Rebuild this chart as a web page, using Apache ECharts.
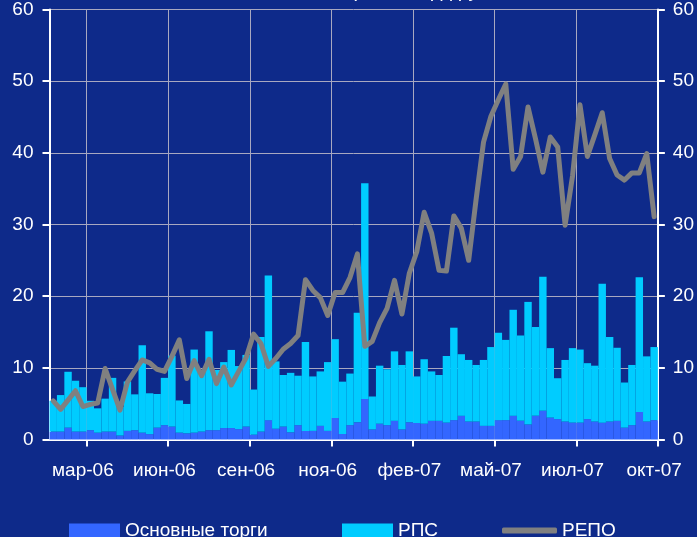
<!DOCTYPE html>
<html><head><meta charset="utf-8">
<script src="https://cdn.jsdelivr.net/npm/echarts@6/dist/echarts.min.js"></script>
<style>html,body{margin:0;padding:0;background:#0e2a8a;}#c{width:697px;height:537px;}</style>
</head><body><div id="c"></div>
<script>
// Tick labels and their category positions
const monthLabels = ['мар-06','июн-06','сен-06','ноя-06','фев-07','май-07','июл-07','окт-07'];
const labelIndex = [4,15,26,37,48,59,70,81];
const tickIndex = [5,16,27,38,49,60,71];
// weekly categories (82 weeks)
const weeks = Array.from({length: 82}, (_, i) => String(i + 1));

// Основные торги
const mainTrading = [1.1,1.1,1.65,1.1,1.1,1.3,0.95,1.1,1.1,0.55, 1.2,1.3,0.95,0.75,1.65,2.0,1.8,0.95,0.86,0.95,
  1.1,1.3,1.3,1.6,1.6,1.45,1.8,0.67,1.1,2.7, 1.5,1.8,1.0,2.0,1.2,1.2,1.9,1.2,3.0,0.77,
  2.0,2.4,5.65,1.4,2.2,2.0,2.6,1.4,2.4,2.3, 2.2,2.6,2.6,2.35,2.7,3.3,2.5,2.5,1.9,1.9,
  2.7,2.7,3.3,2.6,2.1,3.3,4.0,3.05,2.85,2.5, 2.35,2.35,2.85,2.5,2.35,2.5,2.6,1.65,2.0,3.85,
  2.5,2.7];
// РПС
const rps = [4.3,5.1,7.8,7.1,6.2,4.1,3.4,4.6,7.5,4.0, 6.9,5.0,12.2,5.7,4.7,6.6,9.9,4.5,4.1,11.6,
  8.5,13.8,8.4,9.2,10.9,8.8,10.0,6.3,13.2,20.2, 9.4,7.2,8.3,6.9,12.4,7.6,7.6,9.6,11.0,7.3,
  7.2,15.3,30.1,4.6,8.1,7.8,9.7,9.0,9.9,6.5, 9.0,6.9,6.4,9.3,12.9,8.6,8.6,7.9,9.2,11.0,
  12.2,11.2,14.8,11.9,17.1,12.4,18.7,9.7,5.7,8.6, 10.4,10.2,7.8,7.8,19.4,11.8,10.2,6.3,8.4,18.8,
  9.1,10.2];
// РЕПО
const repo = [5.4,4.2,5.5,6.8,4.6,4.9,5.1,9.9,7.0,4.1, 8.0,9.6,11.1,10.7,9.8,9.5,11.6,13.9,8.5,11.0,
  8.9,11.2,7.8,10.1,7.6,9.5,11.4,14.7,13.4,10.2, 11.3,12.6,13.4,14.5,22.3,20.8,19.8,17.3,20.5,20.5,
  22.6,25.9,13.0,13.7,16.3,18.3,22.2,17.5,23.2,26.2, 31.7,28.8,23.6,23.5,31.2,29.5,25.0,33.5,41.5,45.1,
  47.4,49.6,37.7,39.5,46.4,42.0,37.3,42.2,40.8,29.9, 36.8,46.7,39.5,42.5,45.6,39.2,36.9,36.2,37.2,37.2,
  39.9,31.1];

const FONT = "'Liberation Sans', Arial, sans-serif";
const chart = echarts.init(document.getElementById('c'), null, {renderer: 'canvas'});
const legendBase = {top: 521, padding: 0, itemWidth: 51, itemHeight: 14, itemGap: 0, icon: 'rect',
  textStyle: {color: '#ffffff', fontSize: 19, fontFamily: FONT}};
const yAxisBase = {type: 'value', min: 0, max: 60, interval: 10,
  axisLine: {show: true, lineStyle: {color: '#ffffff', width: 2}},
  axisTick: {show: true, length: 7, lineStyle: {color: '#ffffff', width: 2}},
  axisLabel: {color: '#ffffff', fontSize: 19, fontFamily: FONT}};
chart.setOption({
  backgroundColor: '#0e2a8a',
  animation: false,
  title: {text: 'Объем торгов, млрд руб.', left: 380, textAlign: 'center', top: -19, padding: 0,
    textStyle: {color: '#ffffff', fontSize: 20, fontWeight: 'normal', fontFamily: FONT}},
  grid: {left: 49.5, right: 38, top: 9.5, bottom: 97.5, containLabel: false},
  legend: [
    Object.assign({}, legendBase, {left: 69, data: ['Основные торги']}),
    Object.assign({}, legendBase, {left: 342, data: ['РПС']}),
    Object.assign({}, legendBase, {left: 502, itemWidth: 55, itemHeight: 6, icon: 'roundRect', data: ['РЕПО']})
  ],
  xAxis: {
    type: 'category', data: weeks, boundaryGap: true,
    axisLine: {lineStyle: {color: '#ffffff', width: 2}},
    axisTick: {show: true, length: 7, interval: (i) => tickIndex.includes(i), lineStyle: {color: '#ffffff', width: 2}},
    axisLabel: {interval: (i) => labelIndex.includes(i), formatter: (v, i) => monthLabels[labelIndex.indexOf(i)] || '',
      color: '#ffffff', fontSize: 19, fontFamily: FONT, margin: 22},
    splitLine: {show: true, interval: (i) => tickIndex.includes(i), lineStyle: {color: '#a8a8c0', width: 1}}
  },
  yAxis: [
    Object.assign({}, yAxisBase, {position: 'left', axisLabel: Object.assign({}, yAxisBase.axisLabel, {margin: 16}),
      splitLine: {show: true, lineStyle: {color: '#a8a8c0', width: 1}}}),
    Object.assign({}, yAxisBase, {position: 'right', axisLabel: Object.assign({}, yAxisBase.axisLabel, {margin: 15}),
      splitLine: {show: false}})
  ],
  series: [
    {name: 'Основные торги', type: 'bar', stack: 'v', data: mainTrading, barCategoryGap: '0%',
      itemStyle: {color: '#3366ff'}},
    {name: 'РПС', type: 'bar', stack: 'v', data: rps, barCategoryGap: '0%',
      itemStyle: {color: '#00ccff'}},
    {name: 'РЕПО', type: 'line', data: repo, symbol: 'none', showSymbol: false, z: 5,
      lineStyle: {color: '#808080', width: 5, cap: 'round', join: 'round'},
      itemStyle: {color: '#808080'}}
  ]
});
</script></body></html>
